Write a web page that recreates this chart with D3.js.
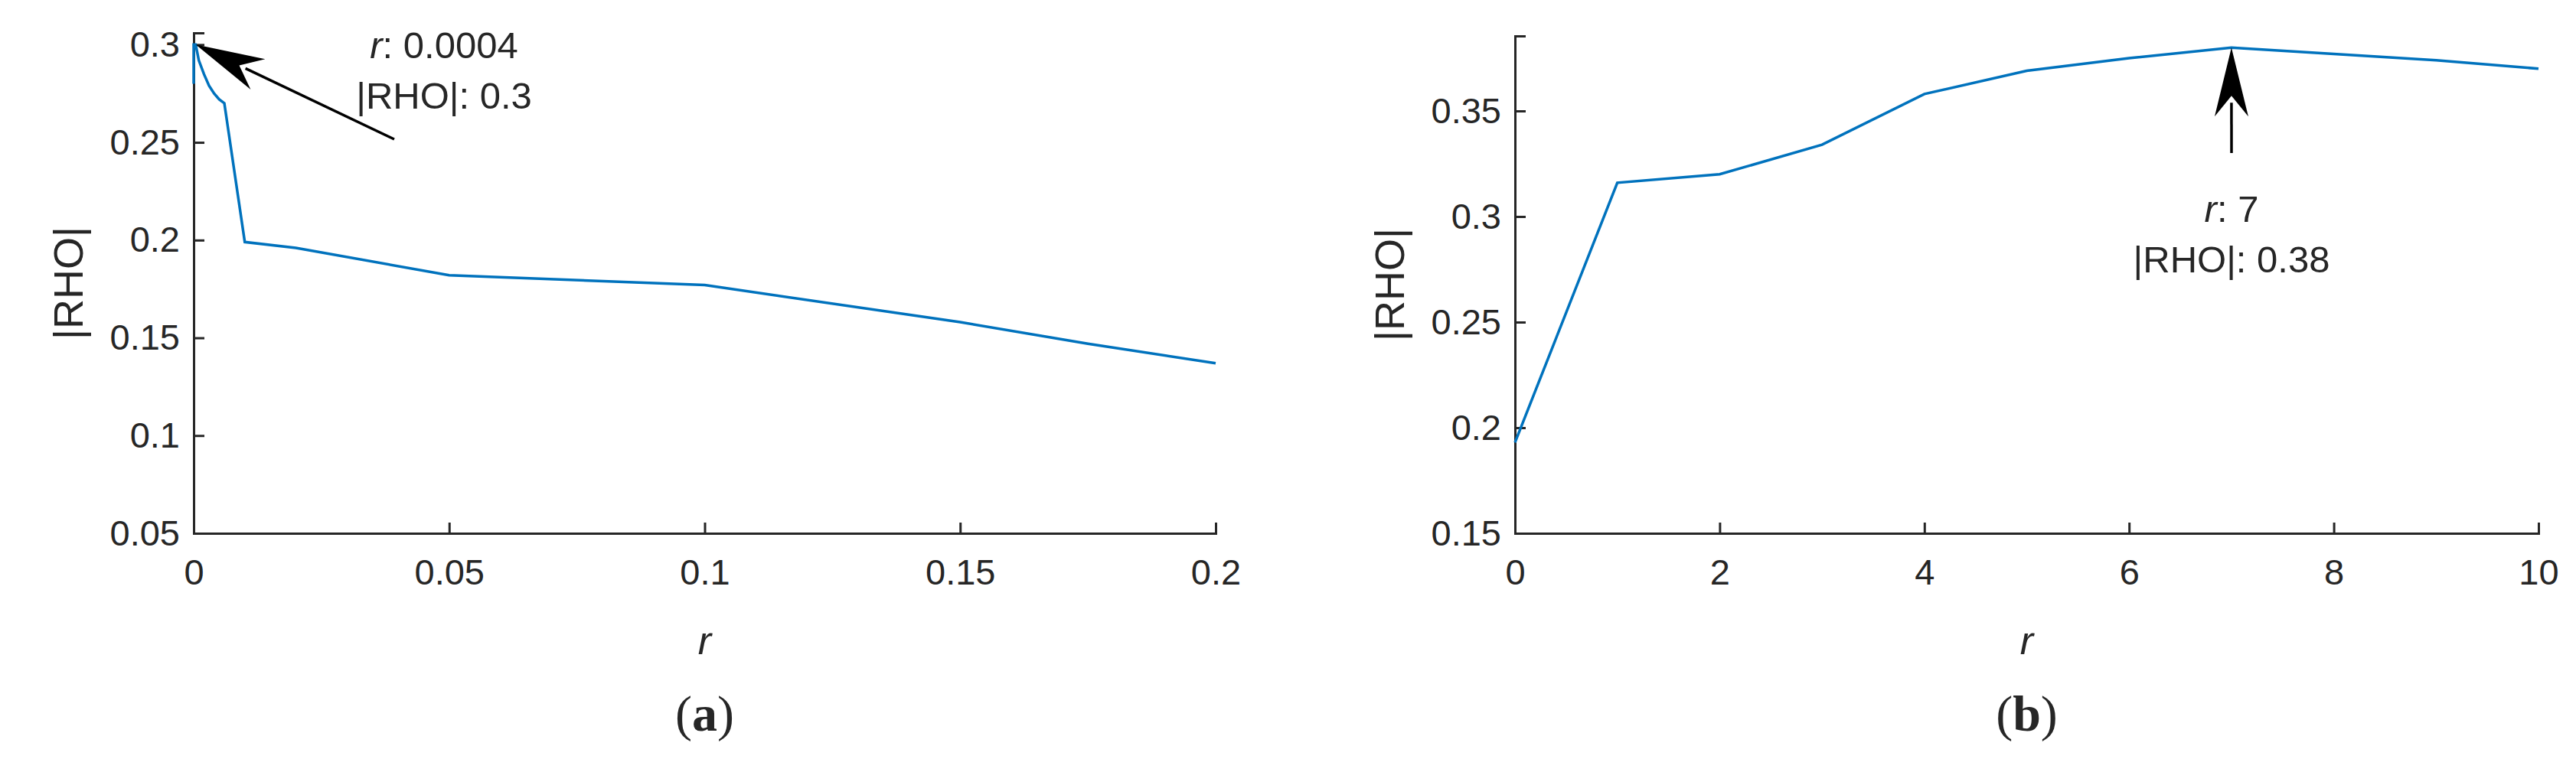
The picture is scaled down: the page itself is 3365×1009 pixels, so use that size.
<!DOCTYPE html>
<html><head><meta charset="utf-8">
<script src="https://cdn.jsdelivr.net/npm/d3@7"></script>
<style>body{margin:0;background:#fff}svg{display:block}text{font-family:"Liberation Sans",Arial,sans-serif;fill:#262626}</style>
</head><body><svg id="c" width="3365" height="1009"></svg>
<script>
const aX=[0,0,0.0004,0.001,0.002,0.003,0.004,0.005,0.006,0.01,0.02,0.05,0.1,0.15,0.175,0.2];
const aY=[0.28,0.3,0.3,0.292,0.285,0.279,0.275,0.272,0.27,0.199,0.196,0.182,0.177,0.158,0.147,0.137];
const aXTicks=[0,0.05,0.1,0.15,0.2], aYTicks=[0.05,0.1,0.15,0.2,0.25,0.3];
const bX=[0,1,2,3,4,5,6,7,8,9,10];
const bY=[0.193,0.316,0.32,0.334,0.358,0.369,0.375,0.38,0.377,0.374,0.37];
const bXTicks=[0,2,4,6,8,10], bYTicks=[0.15,0.2,0.25,0.3,0.35];
const svg=d3.select("#c");
function panel(o){
  const x=d3.scaleLinear().domain(o.xd).range([o.x0,o.x1]);
  const y=d3.scaleLinear().domain(o.yd).range([697,o.ytop]);
  const g=svg.append("g");
  const xa=g.append("g").attr("transform","translate(0,697)").call(d3.axisBottom(x).tickValues(o.xt).tickSize(-14).tickPadding(34).tickFormat(d=>d3.format("")(d)));
  const ya=g.append("g").attr("transform",`translate(${o.x0},0)`).call(d3.axisLeft(y).tickValues(o.yt).tickSize(-14).tickPadding(18).tickFormat(d=>d3.format("")(d)));
  [xa,ya].forEach(a=>{a.select(".domain").attr("stroke","#262626").attr("stroke-width",3);a.selectAll("line").attr("stroke","#262626").attr("stroke-width",3);a.selectAll("text").attr("font-size",47).attr("fill","#262626");});
  xa.selectAll("text").attr("dy","0.71em");
  g.append("path").datum(o.xs.map((v,i)=>[v,o.ys[i]])).attr("d",d3.line().x(d=>x(d[0])).y(d=>y(d[1]))).attr("fill","none").attr("stroke","#0072BD").attr("stroke-width",3.5);
  g.append("text").attr("x",(o.x0+o.x1)/2).attr("y",855).attr("text-anchor","middle").attr("font-size",52).attr("font-style","italic").text("r");
  g.append("text").attr("transform",`translate(${o.x0-145},${(697+o.ytop)/2}) rotate(-90)`).attr("text-anchor","middle").attr("font-size",54).text("|RHO|");
  const cap=g.append("text").attr("x",(o.x0+o.x1)/2).attr("y",955).attr("text-anchor","middle").attr("font-size",66).style("font-family","Liberation Serif, serif");
  cap.append("tspan").text("(");cap.append("tspan").attr("font-weight","bold").text(o.cap);cap.append("tspan").text(")");
  const tx=x(o.ax), ty=y(o.ay);
  const ang=Math.atan2(o.ty-ty,o.tx-tx);
  const L=90,W=44;
  g.append("line").attr("x1",o.tx).attr("y1",o.ty).attr("x2",tx+Math.cos(ang)*L*0.8).attr("y2",ty+Math.sin(ang)*L*0.8).attr("stroke","#000").attr("stroke-width",3.5);
  const bx=tx+Math.cos(ang)*L, by=ty+Math.sin(ang)*L, px=-Math.sin(ang)*W/2, py=Math.cos(ang)*W/2;
  g.append("path").attr("d",`M${tx},${ty}L${bx+px},${by+py}L${tx+Math.cos(ang)*L*0.7},${ty+Math.sin(ang)*L*0.7}L${bx-px},${by-py}Z`).attr("fill","#000");
  const t1=g.append("text").attr("x",o.lx).attr("y",o.ly).attr("text-anchor","middle").attr("font-size",49).attr("fill","#000");
  t1.append("tspan").attr("font-style","italic").text("r");t1.append("tspan").text(": "+o.lr);
  g.append("text").attr("x",o.lx).attr("y",o.ly+66).attr("text-anchor","middle").attr("font-size",49).attr("fill","#000").text("|RHO|: "+o.lv);
}
panel({xd:[0,0.2],yd:[0.05,0.306],x0:253,x1:1588,ytop:43,xt:aXTicks,yt:aYTicks,xs:aX,ys:aY,cap:"a",ax:0.0004,ay:0.3,tx:515,ty:182,lx:580,ly:76,lr:"0.0004",lv:"0.3"});
panel({xd:[0,10],yd:[0.15,0.3855],x0:1979,x1:3316,ytop:47,xt:bXTicks,yt:bYTicks,xs:bX,ys:bY,cap:"b",ax:7,ay:0.38,tx:2915,ty:200,lx:2915,ly:290,lr:"7",lv:"0.38"});
</script></body></html>
